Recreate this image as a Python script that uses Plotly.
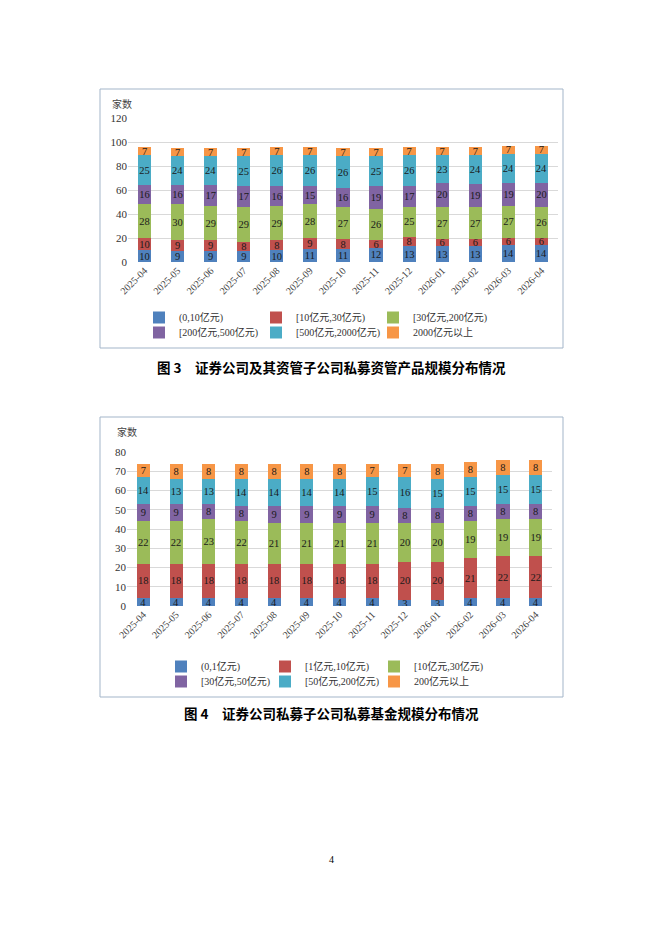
import plotly.graph_objects as go

# page is 662x936; the html body keeps an 8px margin, so the figure is 16px smaller
W, H, OFF = 646, 920, 8

months = ["2025-04", "2025-05", "2025-06", "2025-07", "2025-08", "2025-09", "2025-10",
          "2025-11", "2025-12", "2026-01", "2026-02", "2026-03", "2026-04"]

# 图3 证券公司及其资管子公司私募资管产品规模分布
names3 = ["(0,10亿元)", "[10亿元,30亿元)", "[30亿元,200亿元)",
          "[200亿元,500亿元)", "[500亿元,2000亿元)", "2000亿元以上"]
s3_a = [10, 9, 9, 9, 10, 11, 11, 12, 13, 13, 13, 14, 14]
s3_b = [10, 9, 9, 8, 8, 9, 8, 6, 8, 6, 6, 6, 6]
s3_c = [28, 30, 29, 29, 29, 28, 27, 26, 25, 27, 27, 27, 26]
s3_d = [16, 16, 17, 17, 16, 15, 16, 19, 17, 20, 19, 19, 20]
s3_e = [25, 24, 24, 25, 26, 26, 26, 25, 26, 23, 24, 24, 24]
s3_f = [7, 7, 7, 7, 7, 7, 7, 7, 7, 7, 7, 7, 7]

# 图4 证券公司私募子公司私募基金规模分布
names4 = ["(0,1亿元)", "[1亿元,10亿元)", "[10亿元,30亿元)",
          "[30亿元,50亿元)", "[50亿元,200亿元)", "200亿元以上"]
s4_a = [4, 4, 4, 4, 4, 4, 4, 4, 3, 3, 4, 4, 4]
s4_b = [18, 18, 18, 18, 18, 18, 18, 18, 20, 20, 21, 22, 22]
s4_c = [22, 22, 23, 22, 21, 21, 21, 21, 20, 20, 19, 19, 19]
s4_d = [9, 9, 8, 8, 9, 9, 9, 9, 8, 8, 8, 8, 8]
s4_e = [14, 13, 13, 14, 14, 14, 14, 15, 16, 15, 15, 15, 15]
s4_f = [7, 8, 8, 8, 8, 8, 8, 7, 7, 8, 8, 8, 8]

colors = ["#4F81BD", "#C0504D", "#9BBB59", "#8064A2", "#4BACC6", "#F79646"]
serif = "Liberation Serif, Noto Sans CJK SC"


def px(x):
    return (x - OFF) / W


def py(y):
    return 1 - (y - OFF) / H


# legend grid (page pixels): 3 columns x 2 rows under each chart
leg3_cols, leg3_rows = [139, 256, 373], [303, 318]
leg4_cols, leg4_rows = [161, 265, 374], [652, 667]

fig = go.Figure()
legends = {}
k = 0
for names, series, xa, ya, cols, rows in [
        (names3, [s3_a, s3_b, s3_c, s3_d, s3_e, s3_f], "x", "y", leg3_cols, leg3_rows),
        (names4, [s4_a, s4_b, s4_c, s4_d, s4_e, s4_f], "x2", "y2", leg4_cols, leg4_rows)]:
    for i, (name, vals, c) in enumerate(zip(names, series, colors)):
        k += 1
        lg = "legend" if k == 1 else "legend%d" % k
        legends[lg] = dict(x=px(cols[i % 3]), y=py(rows[i // 3]), orientation="h",
                           font=dict(family=serif, size=10, color="#333333"),
                           itemwidth=30, bgcolor="rgba(0,0,0,0)",
                           xanchor="left", yanchor="top", xref="paper", yref="paper")
        fig.add_trace(go.Bar(x=months, y=vals, name=name, marker_color=c, marker_line_width=0,
                             text=vals, textposition="inside", insidetextanchor="middle",
                             textangle=0, constraintext="none",
                             textfont=dict(family=serif, size=10.5, color="#1a1a1a"),
                             xaxis=xa, yaxis=ya, legend=lg))

axis_common = dict(showline=False, ticks="", zeroline=False, automargin=False)
xcommon = dict(type="category", tickangle=-45,
               tickfont=dict(family=serif, size=10, color="#444444"), **axis_common)
ycommon = dict(showgrid=True, gridcolor="#D9D9D9",
               tickfont=dict(family=serif, size=11, color="#333333"), **axis_common)

fig.update_layout(
    width=W, height=H,
    margin=dict(l=0, r=0, t=0, b=0, autoexpand=False),
    paper_bgcolor="white", plot_bgcolor="white",
    barmode="stack", bargap=0.6,
    xaxis=dict(domain=[px(128), px(558)], anchor="y", **xcommon),
    yaxis=dict(domain=[py(262), py(118)], anchor="x", range=[0, 120], dtick=20, **ycommon),
    xaxis2=dict(domain=[px(127), px(552)], anchor="y2", **xcommon),
    yaxis2=dict(domain=[py(606), py(452)], anchor="x2", range=[0, 80], dtick=10, **ycommon),
    showlegend=True,
    **legends,
)

# chart frames
for y0, y1 in [(89, 348), (417, 697)]:
    fig.add_shape(type="rect", xref="paper", yref="paper",
                  x0=px(100), x1=px(563), y0=py(y1), y1=py(y0),
                  line=dict(color="#A3B5C9", width=1), fillcolor="rgba(0,0,0,0)")

# axis unit labels
for ux, uy in [(122, 104), (127, 432)]:
    fig.add_annotation(text="家数", xref="paper", yref="paper", x=px(ux), y=py(uy),
                       xanchor="center", yanchor="middle", showarrow=False,
                       font=dict(family=serif, size=10, color="#444444"))

# captions
fig.add_annotation(text="<b>图 3　证券公司及其资管子公司私募资管产品规模分布情况</b>",
                   xref="paper", yref="paper", x=px(331), y=py(367), showarrow=False,
                   xanchor="center", yanchor="middle",
                   font=dict(family="Noto Sans CJK SC", size=13.5, color="black"))
fig.add_annotation(text="<b>图 4　证券公司私募子公司私募基金规模分布情况</b>",
                   xref="paper", yref="paper", x=px(331), y=py(713), showarrow=False,
                   xanchor="center", yanchor="middle",
                   font=dict(family="Noto Sans CJK SC", size=13.5, color="black"))

# page number
fig.add_annotation(text="4", xref="paper", yref="paper", x=px(331), y=py(859),
                   xanchor="center", yanchor="middle", showarrow=False,
                   font=dict(family=serif, size=10, color="black"))

fig.write_html("out.html")
